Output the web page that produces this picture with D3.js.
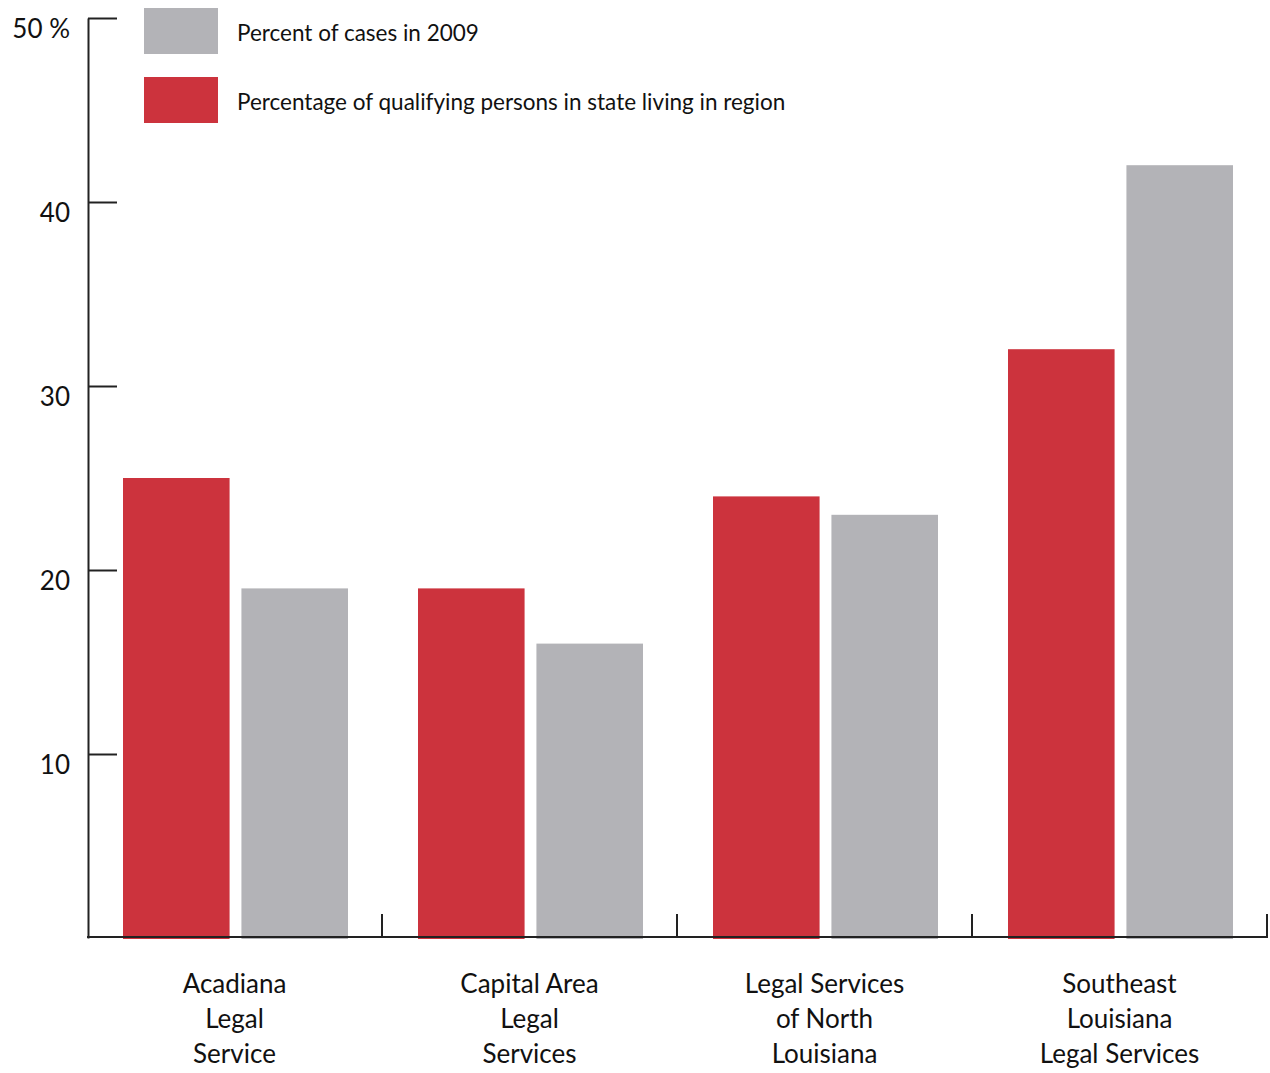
<!DOCTYPE html>
<html>
<head>
<meta charset="utf-8">
<script src="https://cdn.jsdelivr.net/npm/d3@7"></script>
<style>
  body { margin: 0; background: #fff; }
  text { font-family: Lato, "Open Sans", sans-serif; fill: #111; }
</style>
</head>
<body>
<script>
// categories, split into label lines
var categories = ["Acadiana Legal Service", "Capital Area Legal Services",
                  "Legal Services of North Louisiana", "Southeast Louisiana Legal Services"];
var labelLines = [["Acadiana", "Legal", "Service"],
                  ["Capital Area", "Legal", "Services"],
                  ["Legal Services", "of North", "Louisiana"],
                  ["Southeast", "Louisiana", "Legal Services"]];
var qualifying = [25, 19, 24, 32];   // red
var cases2009 = [19, 16, 23, 42];    // gray
var yTicks = [10, 20, 30, 40, 50];

var series = ["qualifying", "cases"];
var seriesColor = {qualifying: "#cc333d", cases: "#b3b3b7"};
var seriesValues = {qualifying: qualifying, cases: cases2009};

var W = 1270, H = 1073;
var svg = d3.select("body").append("svg")
    .attr("width", W).attr("height", H);

//Scales
var x0 = d3.scaleBand().domain(categories).range([88, 1268]);
var x1 = d3.scaleBand().domain(series).range([35, 260]).paddingInner(0.1);
var y = d3.scaleLinear().domain([0, 50]).range([938, 18]);

//Bars
categories.forEach(function(c, i) {
    series.forEach(function(s) {
        var v = seriesValues[s][i];
        svg.append("rect")
            .attr("x", x0(c) + x1(s))
            .attr("y", y(v))
            .attr("width", x1.bandwidth())
            .attr("height", y(0) - y(v) + 1)
            .attr("fill", seriesColor[s]);
    });
});

//Y axis, ticks pointing inward, labels sit a bit below the tick
var yAxis = d3.axisLeft(y)
    .tickValues(yTicks)
    .tickSizeInner(-29)
    .tickSizeOuter(0)
    .tickPadding(18)
    .tickFormat(function(d) { return d === 50 ? "50 %" : d; });

var gy = svg.append("g")
    .attr("transform", "translate(88,0)")
    .call(yAxis);
gy.select(".domain").attr("stroke", "#222").attr("stroke-width", 2);
gy.selectAll(".tick line").attr("stroke", "#222").attr("stroke-width", 2);
gy.selectAll(".tick text")
    .style("font-family", "Lato, 'Open Sans', sans-serif")
    .style("font-size", "26px")
    .attr("fill", "#111")
    .attr("dy", "0.74em");

//X axis line + boundary ticks
var xAxisY = y(0) - 1;
svg.append("line")
    .attr("x1", 87).attr("x2", x0.range()[1])
    .attr("y1", xAxisY).attr("y2", xAxisY)
    .attr("stroke", "#222").attr("stroke-width", 2);
var bounds = categories.map(function(c) { return x0(c) + x0.bandwidth(); });
svg.selectAll(".xtick")
    .data(bounds)
    .enter().append("line")
    .attr("class", "xtick")
    .attr("x1", function(d) { return d - 1; })
    .attr("x2", function(d) { return d - 1; })
    .attr("y1", xAxisY)
    .attr("y2", xAxisY - 23)
    .attr("stroke", "#222").attr("stroke-width", 2);

//Category labels
categories.forEach(function(c, i) {
    var t = svg.append("text")
        .attr("text-anchor", "middle")
        .style("font-size", "26px");
    labelLines[i].forEach(function(line, j) {
        t.append("tspan")
            .attr("x", x0(c) + x0.bandwidth() / 2 - 1)
            .attr("y", 993 + j * 35)
            .text(line);
    });
});

//Legend
var legend = [
    {label: "Percent of cases in 2009", color: seriesColor.cases, y: 8},
    {label: "Percentage of qualifying persons in state living in region", color: seriesColor.qualifying, y: 77}
];
legend.forEach(function(d) {
    svg.append("rect")
        .attr("x", 144).attr("y", d.y)
        .attr("width", 74).attr("height", 46)
        .attr("fill", d.color);
    svg.append("text")
        .attr("x", 237)
        .attr("y", d.y + 33)
        .style("font-size", "22.5px")
        .text(d.label);
});
</script>
</body>
</html>
